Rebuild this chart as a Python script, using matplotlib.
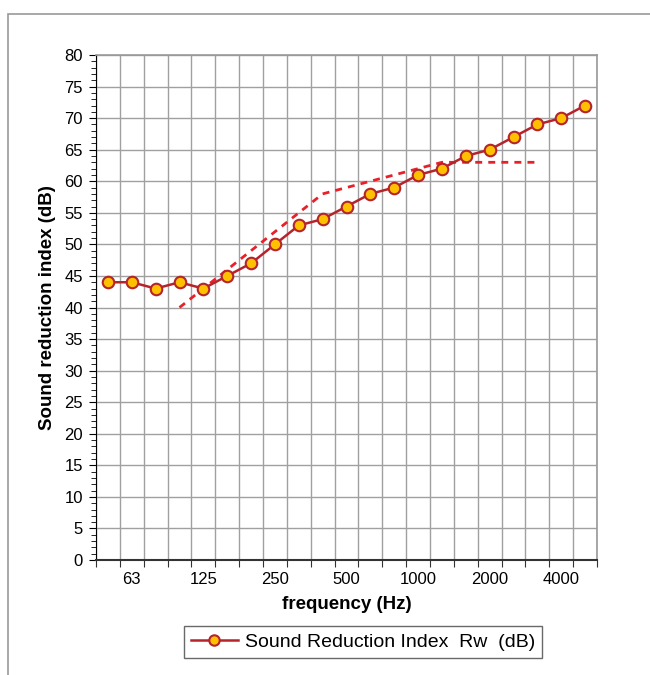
import numpy as np
import matplotlib.pyplot as plt
from matplotlib.patches import Rectangle
from matplotlib.lines import Line2D

plt.rcParams['font.family'] = ['Liberation Sans', 'DejaVu Sans']

# 1/3 倍频程中心频率
频率 = [50, 63, 80, 100, 125, 160, 200, 250, 315, 400, 500, 630, 800,
        1000, 1250, 1600, 2000, 2500, 3150, 4000, 5000]
隔声量 = [44, 44, 43, 44, 43, 45, 47, 50, 53, 54, 56, 58, 59,
          61, 62, 64, 65, 67, 69, 70, 72]

# 参考曲线 (ISO 717-1, 平移后) 100 Hz ~ 3150 Hz
参考频率 = [100, 125, 160, 200, 250, 315, 400, 500, 630, 800,
            1000, 1250, 1600, 2000, 2500, 3150]
参考值 = [40, 43, 46, 49, 52, 55, 58, 59, 60, 61, 62, 63, 63, 63, 63, 63]

刻度标签 = ['63', '125', '250', '500', '1000', '2000', '4000']

fig = plt.figure(figsize=(6.5, 6.75), dpi=100)
ax = fig.add_axes([96 / 650, 1 - 560 / 675, 501 / 650, 505 / 675])

# 外框
fig.patches.append(Rectangle((8 / 650, -0.1), 1.2, 1 - 14 / 675 + 0.1,
                             transform=fig.transFigure, fill=False,
                             edgecolor='#999999', lw=1.2))

x = np.arange(len(频率))
x_ref = [频率.index(f) for f in 参考频率]

ax.plot(x_ref, 参考值, color='#e8202a', lw=2, linestyle=(0, (2.5, 2.2)), zorder=3)
ax.plot(x, 隔声量, color='#b5232b', lw=1.8, marker='o', markersize=8.3,
        markerfacecolor='#ffc000', markeredgecolor='#b5232b',
        markeredgewidth=1.5, zorder=4)

ax.set_xlim(-0.5, len(频率) - 0.5)
ax.set_ylim(0, 80)
ax.set_yticks(np.arange(0, 81, 5))
ax.set_yticks(np.arange(0, 81, 1), minor=True)

# x 轴: 刻度在类别边界, 标签在类别中心
ax.set_xticks(np.arange(-0.5, len(频率), 1))
ax.set_xticklabels([])
ax.set_xticks([频率.index(int(t)) for t in 刻度标签], minor=True)
ax.set_xticklabels(刻度标签, minor=True)
ax.tick_params(axis='x', which='minor', length=0, pad=9, labelsize=12)
ax.tick_params(axis='x', which='major', length=5, direction='out', color='#333333')
ax.tick_params(axis='y', which='major', length=5, labelsize=12, pad=4.5)
ax.tick_params(axis='y', which='minor', length=3.5)

ax.grid(True, which='major', color='#a0a0a0', lw=1)
ax.set_axisbelow(True)

for s in ['top', 'right']:
    ax.spines[s].set_color('#999999')
    ax.spines[s].set_linewidth(1.2)
ax.spines['left'].set_color('black')
ax.spines['bottom'].set_color('#333333')
ax.spines['bottom'].set_linewidth(1.5)

ax.set_xlabel('frequency (Hz)', fontsize=13.5, fontweight='bold', labelpad=6)
ax.set_ylabel('Sound reduction index (dB)', fontsize=13.5, fontweight='bold', labelpad=6)

handle = Line2D([], [], color='#b5232b', lw=1.8, marker='o', markersize=7.5,
                markerfacecolor='#ffc000', markeredgecolor='#b5232b', markeredgewidth=1.5)
leg = fig.legend([handle], ['Sound Reduction Index  Rw  (dB)'], loc='center',
                 bbox_to_anchor=(363 / 650, 1 - 642 / 675), fontsize=14,
                 frameon=True, fancybox=False, edgecolor='#444444',
                 handlelength=2.4, borderpad=0.38, handletextpad=0.35,
                 borderaxespad=0)
leg.get_frame().set_linewidth(1)

fig.savefig('out.png', dpi=100)
